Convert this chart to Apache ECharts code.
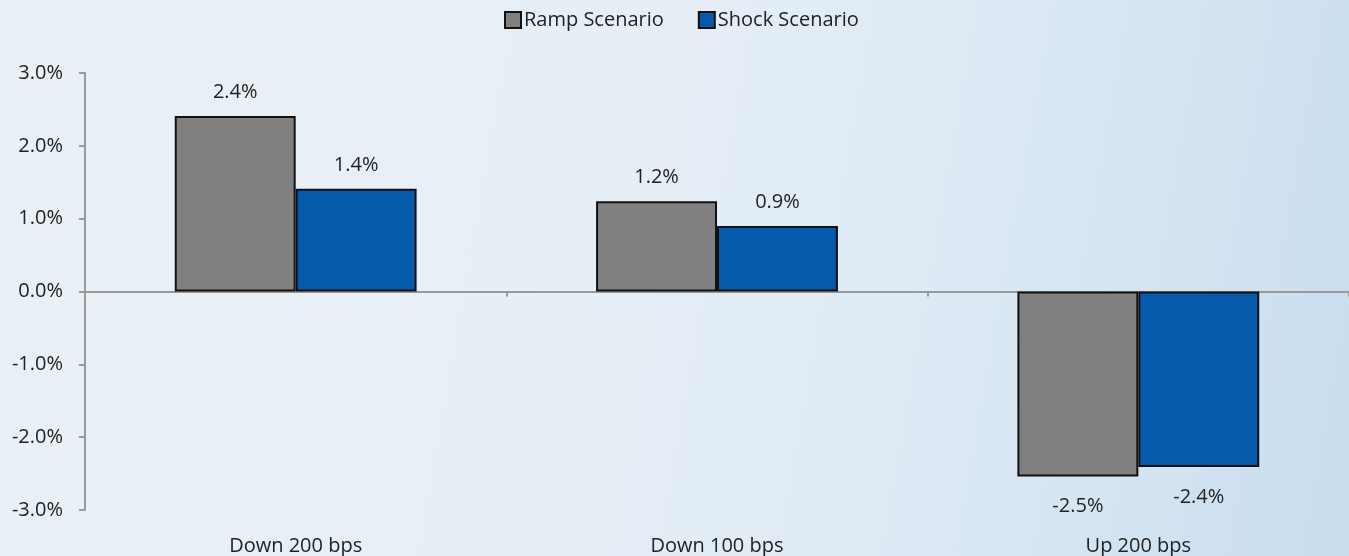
<!DOCTYPE html>
<html>
<head>
<meta charset="utf-8">
<script src="https://cdn.jsdelivr.net/npm/echarts@6/dist/echarts.min.js"></script>
<style>
html,body{margin:0;padding:0;}
#c{width:1349px;height:556px;background:linear-gradient(100deg,#e9f1f7 0%,#e7eff6 45%,#dce9f4 70%,#c9ddef 100%);}
</style>
</head>
<body>
<div id="c"></div>
<script>
const categories = ['Down 200 bps', 'Down 100 bps', 'Up 200 bps'];
const rampValues = [2.41, 1.24, -2.54];
const shockValues = [1.41, 0.9, -2.41];
const seriesNames = ['Ramp Scenario', 'Shock Scenario'];
const yTicks = [-3, -2, -1, 0, 1, 2, 3];

const font = '"Open Sans", Lato, sans-serif';
const fs = 20;
function toData(arr){
  return arr.map(v => ({value: v, label: v < 0 ? {position: 'bottom', distance: 20} : {position: 'top', distance: 14}}));
}
const chart = echarts.init(document.getElementById('c'));
chart.setOption({
  backgroundColor: 'transparent',
  textStyle: {fontFamily: font},
  legend: {
    top: 5, left: 499, icon: 'rect', itemWidth: 16, itemHeight: 16, itemGap: 34,
    textStyle: {fontSize: fs, color: '#222', fontFamily: font, padding: [0, 0, 0, -2]},
    data: seriesNames
  },
  grid: {left: 85, right: 0, top: 73, bottom: 46},
  xAxis: [{
    type: 'category', data: categories,
    axisLine: {onZero: true, lineStyle: {color: '#9a9a9a', width: 2}},
    axisTick: {show: true, length: 5, lineStyle: {color: '#9a9a9a', width: 2}},
    axisLabel: {show: false}
  }, {
    type: 'category', data: categories, position: 'bottom',
    axisLine: {show: false}, axisTick: {show: false},
    axisLabel: {margin: 26, fontSize: fs, color: '#222', fontFamily: font}
  }],
  yAxis: {
    type: 'value', min: yTicks[0], max: yTicks[yTicks.length-1], interval: 1,
    axisLine: {show: true, lineStyle: {color: '#9a9a9a', width: 2}},
    axisTick: {show: true, length: 6, lineStyle: {color: '#9a9a9a', width: 2}},
    splitLine: {show: false},
    axisLabel: {margin: 22, fontSize: fs, color: '#222', fontFamily: font,
      formatter: v => v.toFixed(1) + '%'}
  },
  series: [{
    name: seriesNames[0], type: 'bar', data: toData(rampValues),
    barWidth: '28.7%', barGap: '0%',
    itemStyle: {color: '#808080', borderColor: '#111', borderWidth: 2},
    label: {show: true, fontSize: fs, color: '#222', fontFamily: font,
      formatter: p => p.value.toFixed(1) + '%'}
  }, {
    name: seriesNames[1], type: 'bar', data: toData(shockValues),
    barWidth: '28.7%', barGap: '0%',
    itemStyle: {color: '#055aab', borderColor: '#111', borderWidth: 2},
    label: {show: true, fontSize: fs, color: '#222', fontFamily: font,
      formatter: p => p.value.toFixed(1) + '%'}
  }]
});
</script>
</body>
</html>
